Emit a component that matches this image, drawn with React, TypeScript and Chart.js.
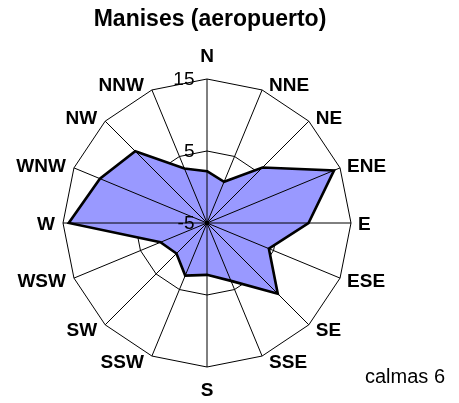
import React, { useEffect, useRef } from 'react';
import { Chart, registerables } from 'chart.js';

Chart.register(...registerables);

// ---- data ----
const directions = ['N', 'NNE', 'NE', 'ENE', 'E', 'ESE', 'SE', 'SSE', 'S', 'SSW', 'SW', 'WSW', 'W', 'WNW', 'NW', 'NNW'];
const frequencies = [2.2, 1.2, 5.9, 14.1, 9.1, 4.3, 8.9, 3.7, 2.2, 2.9, 1.0, 2.0, 14.2, 11.1, 9.1, 3.2];
const tickValues = [-5, 5, 15];
const scaleMin = -5;
const scaleMax = 15;
const scaleStep = 10;
const chartTitle = 'Manises (aeropuerto)';
const calmsNote = 'calmas 6';

const FONT = '"Liberation Sans", Arial, sans-serif';

const windRosePlugin = {
  id: 'windRose',
  afterDatasetsDraw(chart: any) {
    const s = chart.scales.r;
    const ctx = chart.ctx;
    const outer = s.getDistanceFromCenterForValue(s.max);
    ctx.save();
    ctx.strokeStyle = '#000';
    ctx.lineWidth = 1;
    ctx.beginPath();
    for (let i = 0; i < directions.length; i++) {
      const p = s.getPointPosition(i, outer);
      ctx.moveTo(s.xCenter, s.yCenter);
      ctx.lineTo(p.x, p.y);
    }
    ctx.stroke();
    ctx.fillStyle = '#000';
    ctx.beginPath();
    ctx.arc(s.xCenter, s.yCenter, 2.2, 0, Math.PI * 2);
    ctx.fill();
    ctx.restore();
  },
  afterDraw(chart: any) {
    const s = chart.scales.r;
    const ctx = chart.ctx;
    const outer = s.getDistanceFromCenterForValue(s.max);
    const n = directions.length;
    ctx.save();
    ctx.fillStyle = '#000';

    // direction labels
    const labelSize = 19;
    const capHalf = 0.716 * labelSize / 2;
    ctx.font = `bold ${labelSize}px ${FONT}`;
    ctx.textBaseline = 'alphabetic';
    for (let i = 0; i < n; i++) {
      const v = s.getPointPosition(i, outer);
      const theta = (i / n) * Math.PI * 2;
      let x = v.x;
      let yc = v.y;
      if (i === 0) {
        ctx.textAlign = 'center';
        yc = v.y - 24;
      } else if (i === n / 2) {
        ctx.textAlign = 'center';
        yc = v.y + 22;
      } else if (i < n / 2) {
        ctx.textAlign = 'left';
        x = v.x + 7;
        yc = v.y - 6 * Math.cos(theta);
      } else {
        ctx.textAlign = 'right';
        x = v.x - 8;
        yc = v.y - 6 * Math.cos(theta);
      }
      ctx.fillText(directions[i], x, yc + capHalf);
    }

    // tick labels
    const tickSize = 19;
    ctx.font = `${tickSize}px ${FONT}`;
    ctx.textAlign = 'right';
    for (const t of tickValues) {
      const r = s.getDistanceFromCenterForValue(t);
      ctx.fillText(String(t), s.xCenter - 12.5, s.yCenter - r - 1 + 0.716 * tickSize / 2);
    }

    // title
    ctx.font = `bold 23px ${FONT}`;
    ctx.textAlign = 'center';
    ctx.fillText(chartTitle, 210, 26);

    // calms note
    ctx.font = `20px ${FONT}`;
    ctx.textAlign = 'left';
    ctx.fillText(calmsNote, 365, 383);
    ctx.restore();
  },
};

export default function App() {
  const ref = useRef<HTMLCanvasElement>(null);
  useEffect(() => {
    const chart = new Chart(ref.current as HTMLCanvasElement, {
      type: 'radar',
      data: {
        labels: directions,
        datasets: [
          {
            data: frequencies,
            backgroundColor: '#9999FF',
            borderColor: '#000000',
            borderWidth: 2.6,
            pointRadius: 0,
            pointHoverRadius: 0,
            fill: 'start',
            tension: 0,
          },
        ],
      },
      options: {
        animation: false,
        responsive: false,
        devicePixelRatio: 1,
        layout: { padding: { left: 63, top: 79, right: 107, bottom: 35 } },
        plugins: {
          legend: { display: false },
          title: { display: false },
          tooltip: { enabled: false },
        },
        scales: {
          r: {
            min: scaleMin,
            max: scaleMax,
            beginAtZero: false,
            ticks: { display: false, stepSize: scaleStep },
            grid: { color: '#000000', lineWidth: 1, circular: false },
            angleLines: { display: false },
            pointLabels: { display: false },
          },
        },
      },
      plugins: [windRosePlugin],
    });
    return () => chart.destroy();
  }, []);
  return (
    <div style={{ position: 'absolute', left: 0, top: 0, width: 459, height: 403, background: '#ffffff' }}>
      <canvas ref={ref} width={459} height={403} style={{ display: 'block', width: 459, height: 403 }} />
    </div>
  );
}
